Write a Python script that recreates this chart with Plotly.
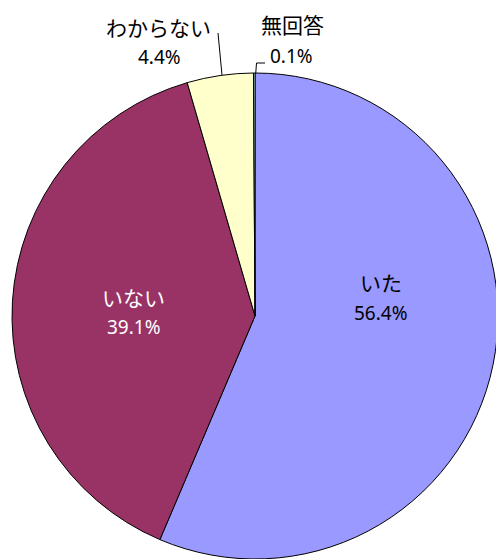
import plotly.graph_objects as go

labels = ["いた", "いない", "わからない", "無回答"]
values = [56.4, 39.1, 4.4, 0.1]
pct_text = ["56.4%", "39.1%", "4.4%", "0.1%"]
colors = ["#9999FF", "#993366", "#FFFFCC", "#CCFFFF"]

W, H = 512, 559

def px(x):
    return x / W

def py(y):
    return 1 - y / H

CX, CY, R = 255, 316, 243

fig = go.Figure(go.Pie(
    labels=labels,
    values=values,
    sort=False,
    direction="clockwise",
    rotation=0,
    marker=dict(colors=colors, line=dict(color="#000000", width=1)),
    textinfo="none",
    hoverinfo="label+percent",
    showlegend=False,
    domain=dict(x=[px(CX - R), px(CX + R)], y=[py(CY + R), py(CY - R)]),
))

font_jp = "Noto Sans CJK JP, Noto Sans, sans-serif"
font_num = "Noto Sans, Open Sans, sans-serif"

label_pos = [(381, 282, "#000000"), (133, 297, "#FFFFFF"), (158, 27, "#000000"), (292, 24, "#000000")]
pct_pos = [(381, 313), (134, 327), (159, 57), (291, 56)]

annotations = []
for (x, y, c), lab in zip(label_pos, labels):
    annotations.append(dict(x=px(x), y=py(y), xref="paper", yref="paper", text=lab, showarrow=False,
                            font=dict(family=font_jp, size=21, color=c),
                            xanchor="center", yanchor="middle"))
for (x, y), t, (_, _, c) in zip(pct_pos, pct_text, label_pos):
    annotations.append(dict(x=px(x), y=py(y), xref="paper", yref="paper", text=t, showarrow=False,
                            font=dict(family=font_num, size=19, color=c),
                            xanchor="center", yanchor="middle"))

shapes = [
    dict(type="line", xref="paper", yref="paper", x0=px(222), y0=py(75), x1=px(218), y1=py(33),
         line=dict(color="#000000", width=1)),
    dict(type="path", xref="paper", yref="paper",
         path=f"M {px(255.7)} {py(74)} L {px(256.5)} {py(63)} L {px(265)} {py(63)}",
         line=dict(color="#000000", width=1)),
]

fig.update_layout(
    width=W, height=H,
    margin=dict(l=0, r=0, t=0, b=0),
    paper_bgcolor="#FFFFFF",
    plot_bgcolor="#FFFFFF",
    annotations=annotations,
    shapes=shapes,
)

fig.write_html(
    "out.html",
    config={"displayModeBar": False},
    post_script="document.body.style.margin='0';document.body.style.overflow='hidden';"
                "document.documentElement.style.overflow='hidden';",
)
